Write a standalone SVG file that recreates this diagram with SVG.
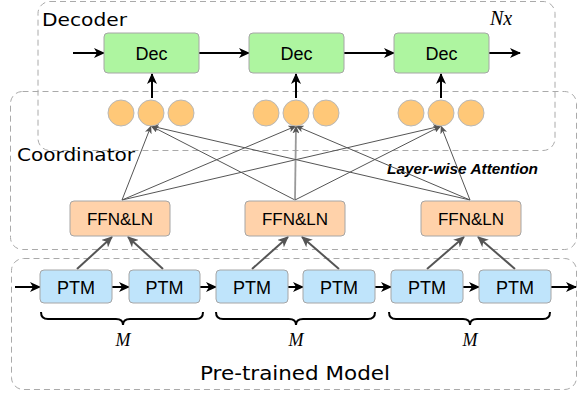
<svg xmlns="http://www.w3.org/2000/svg" width="578" height="399" viewBox="0 0 578 399">
<defs>
<marker id="ab" markerUnits="userSpaceOnUse" markerWidth="11" markerHeight="10" refX="10" refY="5" orient="auto"><path d="M0,0 L11,5 L0,10 L3,5 z" fill="#000"/></marker>
<marker id="ag" markerUnits="userSpaceOnUse" markerWidth="11" markerHeight="10" refX="10" refY="5" orient="auto"><path d="M0,0 L11,5 L0,10 L3,5 z" fill="#555"/></marker>
<marker id="as" markerUnits="userSpaceOnUse" markerWidth="8" markerHeight="7" refX="7.5" refY="3.5" orient="auto"><path d="M0,0 L8,3.5 L0,7 L2,3.5 z" fill="#555"/></marker>
</defs>
<style>
.zone{fill:none;stroke:#aaa;stroke-width:1;stroke-dasharray:6,4}
.dec{fill:#aef5a0;stroke:#a6a6a6;stroke-width:1}
.ffn{fill:#ffd2aa;stroke:#a6a6a6;stroke-width:1}
.ptm{fill:#bfe4fb;stroke:#a6a6a6;stroke-width:1}
.circ{fill:#ffc878;stroke:#b8b8b8;stroke-width:1}
.lbl{font-family:"Liberation Sans",Arial,sans-serif;fill:#000;text-anchor:middle}
.hand{font-family:"DejaVu Sans","Noto Sans",sans-serif;fill:#000}
.flow{stroke:#000;stroke-width:2;fill:none;marker-end:url(#ab)}
.up{stroke:#555;stroke-width:2;fill:none;marker-end:url(#ag)}
.att{stroke:#555;stroke-width:1;fill:none;marker-end:url(#as)}
.brace{stroke:#000;stroke-width:2;fill:none}
.math{font-family:"Liberation Serif","Times New Roman",serif;font-style:italic;fill:#000;text-anchor:middle}
</style>

<g id="zones">
<rect class="zone" x="38" y="1.5" width="517" height="149" rx="12"/>
<rect class="zone" x="10.5" y="91.5" width="566" height="158" rx="12"/>
<rect class="zone" x="11.5" y="258.5" width="565" height="131" rx="12"/>
<text class="hand" x="42" y="26" font-size="18" textLength="85" lengthAdjust="spacingAndGlyphs">Decoder</text>
<text class="hand" x="17" y="161" font-size="18" textLength="118" lengthAdjust="spacingAndGlyphs">Coordinator</text>
<text class="hand" x="200" y="380" font-size="20" textLength="190" lengthAdjust="spacingAndGlyphs">Pre-trained Model</text>
<text class="math" x="501" y="25" font-size="20">Nx</text>
<text x="387" y="174" font-family="Liberation Sans,Arial,sans-serif" font-size="14" font-weight="bold" font-style="italic" textLength="151" lengthAdjust="spacingAndGlyphs">Layer-wise Attention</text>
</g>

<g id="connectors">
<line class="flow" x1="73" y1="53" x2="104" y2="53"/>
<line class="flow" x1="199" y1="53" x2="249" y2="53"/>
<line class="flow" x1="344" y1="53" x2="394" y2="53"/>
<line class="flow" x1="489" y1="53" x2="520" y2="53"/>
<line class="flow" x1="152" y1="98" x2="152" y2="74"/>
<line class="flow" x1="296" y1="98" x2="296" y2="74"/>
<line class="flow" x1="441" y1="98" x2="441" y2="74"/>

<line class="att" x1="122" y1="200" x2="151" y2="126"/>
<line class="att" x1="122" y1="200" x2="296" y2="126"/>
<line class="att" x1="122" y1="200" x2="441" y2="126"/>
<line class="att" x1="295" y1="200" x2="151" y2="126"/>
<line class="att" x1="295" y1="200" x2="296" y2="126" style="stroke:#999;stroke-width:1.8"/>
<line class="att" x1="295" y1="200" x2="441" y2="126"/>
<line class="att" x1="470" y1="200" x2="151" y2="126"/>
<line class="att" x1="470" y1="200" x2="296" y2="126"/>
<line class="att" x1="470" y1="200" x2="441" y2="126"/>

<line class="up" x1="77" y1="269" x2="112" y2="237"/>
<line class="up" x1="163" y1="269" x2="128" y2="237"/>
<line class="up" x1="252" y1="269" x2="288" y2="237"/>
<line class="up" x1="339" y1="269" x2="302" y2="237"/>
<line class="up" x1="427" y1="269" x2="464" y2="237"/>
<line class="up" x1="515" y1="269" x2="478" y2="237"/>

<line class="flow" x1="15" y1="287" x2="40" y2="287"/>
<line class="flow" x1="112" y1="287" x2="129" y2="287"/>
<line class="flow" x1="200" y1="287" x2="216" y2="287"/>
<line class="flow" x1="288" y1="287" x2="303" y2="287"/>
<line class="flow" x1="375" y1="287" x2="391" y2="287"/>
<line class="flow" x1="463" y1="287" x2="479" y2="287"/>
<line class="flow" x1="551" y1="287" x2="576" y2="287"/>
</g>

<g id="dec1"><rect class="dec" x="104" y="33" width="95" height="40" rx="4"/><text class="lbl" x="151.5" y="60" font-size="18">Dec</text></g>
<g id="dec2"><rect class="dec" x="249" y="33" width="95" height="40" rx="4"/><text class="lbl" x="296.5" y="60" font-size="18">Dec</text></g>
<g id="dec3"><rect class="dec" x="394" y="33" width="95" height="40" rx="4"/><text class="lbl" x="441.5" y="60" font-size="18">Dec</text></g>

<g id="circles1"><circle class="circ" cx="121" cy="113" r="13"/><circle class="circ" cx="151" cy="113" r="13"/><circle class="circ" cx="181" cy="113" r="13"/></g>
<g id="circles2"><circle class="circ" cx="266" cy="113" r="13"/><circle class="circ" cx="296" cy="113" r="13"/><circle class="circ" cx="326" cy="113" r="13"/></g>
<g id="circles3"><circle class="circ" cx="411" cy="113" r="13"/><circle class="circ" cx="441" cy="113" r="13"/><circle class="circ" cx="471" cy="113" r="13"/></g>

<g id="ffn1"><rect class="ffn" x="70" y="201" width="100" height="35" rx="4"/><text class="lbl" x="120" y="225" font-size="17">FFN&amp;LN</text></g>
<g id="ffn2"><rect class="ffn" x="245" y="201" width="100" height="35" rx="4"/><text class="lbl" x="295" y="225" font-size="17">FFN&amp;LN</text></g>
<g id="ffn3"><rect class="ffn" x="421" y="201" width="100" height="35" rx="4"/><text class="lbl" x="471" y="225" font-size="17">FFN&amp;LN</text></g>

<g id="ptm1"><rect class="ptm" x="40" y="270" width="72" height="33" rx="4"/><text class="lbl" x="76" y="294" font-size="18">PTM</text></g>
<g id="ptm2"><rect class="ptm" x="129" y="270" width="71" height="33" rx="4"/><text class="lbl" x="164.5" y="294" font-size="18">PTM</text></g>
<g id="ptm3"><rect class="ptm" x="216" y="270" width="72" height="33" rx="4"/><text class="lbl" x="252" y="294" font-size="18">PTM</text></g>
<g id="ptm4"><rect class="ptm" x="303" y="270" width="72" height="33" rx="4"/><text class="lbl" x="339" y="294" font-size="18">PTM</text></g>
<g id="ptm5"><rect class="ptm" x="391" y="270" width="72" height="33" rx="4"/><text class="lbl" x="427" y="294" font-size="18">PTM</text></g>
<g id="ptm6"><rect class="ptm" x="479" y="270" width="72" height="33" rx="4"/><text class="lbl" x="515" y="294" font-size="18">PTM</text></g>

<g id="brace1"><path class="brace" d="M41,312 q0,7 7,7 L116,319 q7,0 7,6 q0,-6 7,-6 L196,319 q7,0 7,-7"/><text class="math" x="123" y="346" font-size="18">M</text></g>
<g id="brace2"><path class="brace" d="M216,312 q0,7 7,7 L289,319 q7,0 7,6 q0,-6 7,-6 L368,319 q7,0 7,-7"/><text class="math" x="296" y="346" font-size="18">M</text></g>
<g id="brace3"><path class="brace" d="M389,312 q0,7 7,7 L463,319 q7,0 7,6 q0,-6 7,-6 L543,319 q7,0 7,-7"/><text class="math" x="470" y="346" font-size="18">M</text></g>
</svg>
